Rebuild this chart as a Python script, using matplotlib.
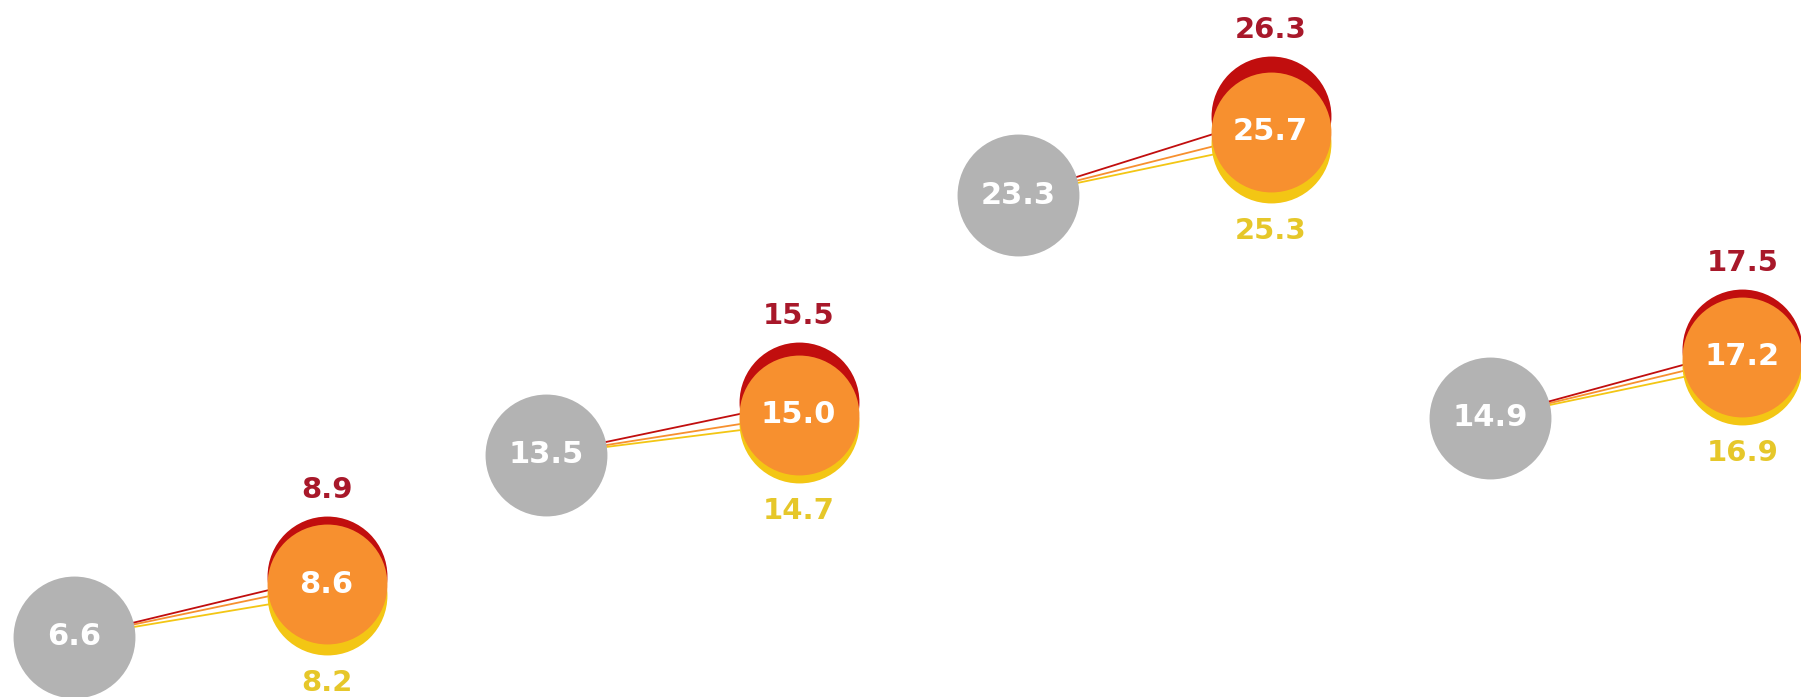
import matplotlib.pyplot as plt

# values
before = [6.6, 13.5, 23.3, 14.9]
high = [8.9, 15.5, 26.3, 17.5]
mid = [8.6, 15.0, 25.7, 17.2]
low = [8.2, 14.7, 25.3, 16.9]

grey = "#b3b3b3"
orange = "#f7902f"
red = "#c10e0e"
yellow = "#f3c614"
red_txt = "#a8182a"
yellow_txt = "#e6c72a"

fig = plt.figure(figsize=(18.01, 6.97), dpi=100)
ax = fig.add_axes([0, 0, 1, 1])
ax.set_xlim(-0.157, 3.659)
ax.set_ylim(4.33, 30.69)
ax.axis("off")

shift = 0.535
x0 = list(range(len(before)))
x1 = [x + shift for x in x0]

# connecting lines
for i in x0:
    for vals, c in [(low, yellow), (mid, orange), (high, red)]:
        ax.plot([x0[i], x1[i]], [before[i], vals[i]], color=c, lw=1.3, zorder=1)

ax.scatter(x0, before, s=7700, color=grey, zorder=2, linewidths=0)
ax.scatter(x1, low, s=7450, color=yellow, zorder=3, linewidths=0)
ax.scatter(x1, high, s=7450, color=red, zorder=4, linewidths=0)
ax.scatter(x1, mid, s=7450, color=orange, zorder=5, linewidths=0)

for i in x0:
    ax.text(x0[i], before[i], f"{before[i]:.1f}", color="white", fontsize=22,
            fontweight="bold", ha="center", va="center", zorder=6)
    ax.text(x1[i], mid[i], f"{mid[i]:.1f}", color="white", fontsize=22,
            fontweight="bold", ha="center", va="center", zorder=6)
    ax.annotate(f"{high[i]:.1f}", (x1[i], high[i]), xytext=(0, 72),
                textcoords="offset pixels", color=red_txt, fontsize=21,
                fontweight="bold", ha="center", va="bottom", zorder=6)
    ax.annotate(f"{low[i]:.1f}", (x1[i], low[i]), xytext=(0, -74),
                textcoords="offset pixels", color=yellow_txt, fontsize=21,
                fontweight="bold", ha="center", va="top", zorder=6)

fig.savefig("out.png", dpi=100)
